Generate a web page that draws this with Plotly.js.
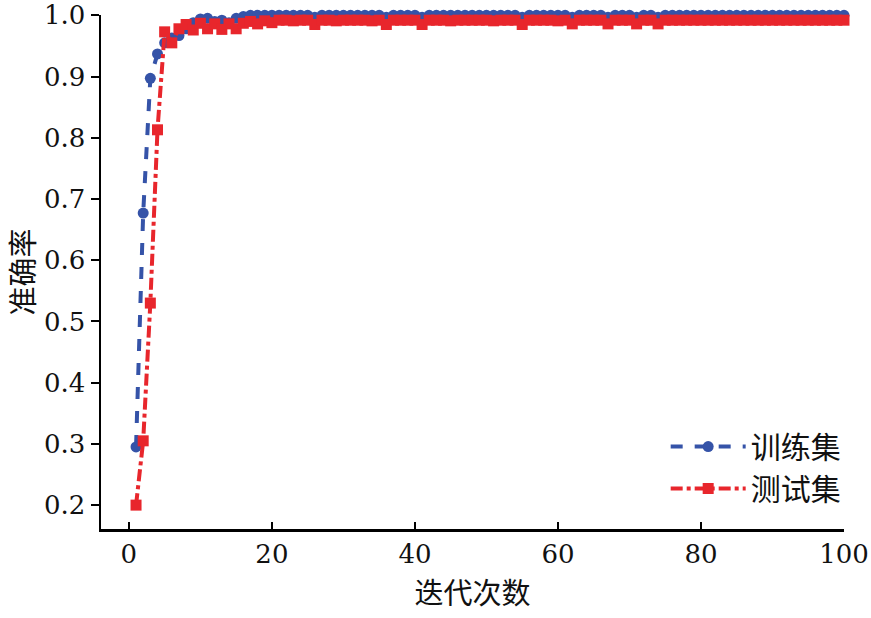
<!DOCTYPE html>
<html>
<head>
<meta charset="utf-8">
<script src="https://cdn.plot.ly/plotly-3.0.1.min.js"></script>
<style>html,body{margin:0;padding:0;background:#fff;}#chart{width:871px;height:618px;}</style>
</head>
<body>
<div id="chart"></div>
<script>
const epochs = Array.from({length: 100}, (_, i) => i + 1);

const trainAcc = [
  0.295, 0.677, 0.897, 0.937, 0.955, 0.963, 0.967, 0.978, 0.988, 0.994,
  0.995, 0.990, 0.992, 0.988, 0.995, 0.998, 1.000, 1.000, 1.000, 1.000,
  1.000, 1.000, 1.000, 1.000, 1.000, 0.997, 1.000, 1.000, 1.000, 1.000,
  1.000, 1.000, 1.000, 1.000, 1.000, 0.997, 1.000, 1.000, 1.000, 1.000,
  0.997, 1.000, 1.000, 1.000, 1.000, 1.000, 1.000, 1.000, 1.000, 1.000,
  1.000, 1.000, 1.000, 1.000, 0.997, 1.000, 1.000, 1.000, 1.000, 1.000,
  1.000, 0.997, 1.000, 1.000, 1.000, 1.000, 0.997, 1.000, 1.000, 1.000,
  0.997, 1.000, 1.000, 0.997, 1.000, 1.000, 1.000, 1.000, 1.000, 1.000,
  1.000, 1.000, 1.000, 1.000, 1.000, 1.000, 1.000, 1.000, 1.000, 1.000,
  1.000, 1.000, 1.000, 1.000, 1.000, 1.000, 1.000, 1.000, 1.000, 1.000
];

const testAcc = [
  0.200, 0.305, 0.530, 0.813, 0.973, 0.955, 0.978, 0.985, 0.976, 0.987,
  0.978, 0.986, 0.977, 0.986, 0.978, 0.987, 0.990, 0.986, 0.991, 0.988,
  0.992, 0.992, 0.991, 0.992, 0.992, 0.985, 0.992, 0.992, 0.991, 0.992,
  0.992, 0.992, 0.992, 0.991, 0.992, 0.985, 0.992, 0.992, 0.992, 0.992,
  0.985, 0.992, 0.992, 0.992, 0.991, 0.992, 0.992, 0.992, 0.992, 0.992,
  0.991, 0.992, 0.992, 0.992, 0.985, 0.992, 0.992, 0.992, 0.992, 0.991,
  0.992, 0.986, 0.992, 0.992, 0.992, 0.992, 0.986, 0.992, 0.992, 0.992,
  0.986, 0.992, 0.992, 0.986, 0.992, 0.992, 0.992, 0.992, 0.992, 0.992,
  0.992, 0.992, 0.992, 0.992, 0.992, 0.992, 0.992, 0.992, 0.992, 0.992,
  0.992, 0.992, 0.992, 0.992, 0.992, 0.992, 0.992, 0.992, 0.992, 0.992
];

const seriesNames = ['训练集', '测试集'];
const xTickVals = [0, 20, 40, 60, 80, 100];
const yTickVals = [0.2, 0.3, 0.4, 0.5, 0.6, 0.7, 0.8, 0.9, 1.0];
const yTickText = ['0.2', '0.3', '0.4', '0.5', '0.6', '0.7', '0.8', '0.9', '1.0'];

const blue = '#3553a8';
const red = '#e8262c';
const serif = 'DejaVu Serif';
const cjk = 'Noto Sans CJK SC';

const traces = [
  {
    x: epochs, y: trainAcc, name: seriesNames[0], type: 'scatter', mode: 'lines+markers',
    line: {color: blue, width: 4, dash: 'dash'},
    marker: {color: blue, symbol: 'circle', size: 11},
    cliponaxis: false
  },
  {
    x: epochs, y: testAcc, name: seriesNames[1], type: 'scatter', mode: 'lines+markers',
    line: {color: red, width: 4, dash: 'dashdot'},
    marker: {color: red, symbol: 'square', size: 11},
    cliponaxis: false
  }
];

const layout = {
  width: 871, height: 618,
  margin: {l: 101, r: 27, t: 15, b: 89},
  paper_bgcolor: '#fff', plot_bgcolor: '#fff',
  showlegend: true,
  legend: {
    x: 0.76, y: 0.211, xanchor: 'left', yanchor: 'top',
    font: {family: cjk, size: 30, color: '#111'},
    bgcolor: 'rgba(0,0,0,0)', itemwidth: 75, tracegroupgap: 0
  },
  xaxis: {
    range: [-3.9, 100], tickvals: xTickVals, ticktext: xTickVals.map(String),
    ticks: 'inside', ticklen: 7, tickwidth: 2, tickcolor: '#000',
    showline: true, linewidth: 2.5, linecolor: '#000',
    showgrid: false, zeroline: false, ticklabeloverflow: 'allow',
    tickfont: {family: serif, size: 26, color: '#111'},
    title: {text: '迭代次数', font: {family: cjk, size: 29, color: '#111'}, standoff: 16}
  },
  yaxis: {
    range: [0.161, 1.0005], tickvals: yTickVals, ticktext: yTickText,
    ticks: 'outside', ticklen: 8, tickwidth: 2, tickcolor: '#000',
    showline: true, linewidth: 2.5, linecolor: '#000',
    showgrid: false, zeroline: false, ticklabeloverflow: 'allow',
    tickfont: {family: serif, size: 26, color: '#111'},
    title: {text: '准确率', font: {family: cjk, size: 29, color: '#111'}, standoff: 12}
  }
};

Plotly.newPlot('chart', traces, layout, {displayModeBar: false, staticPlot: true});
</script>
</body>
</html>
